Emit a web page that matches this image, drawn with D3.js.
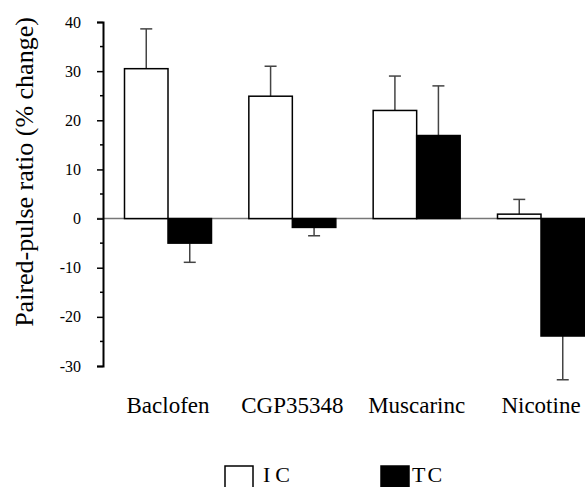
<!DOCTYPE html>
<html>
<head>
<meta charset="utf-8">
<script src="https://cdn.jsdelivr.net/npm/d3@7"></script>
<style>
  body { margin: 0; background: #fff; }
  text { font-family: "Liberation Serif", "Times New Roman", "DejaVu Serif", serif; fill: #000; }
</style>
</head>
<body>
<div id="chart"></div>
<script>
// data
const categories = ['Baclofen', 'CGP35348', 'Muscarinc', 'Nicotine'];
const groups = ['IC', 'TC'];
const icValues = [30.5, 24.9, 22.0, 0.9];
const icErrors = [8.1, 6.1, 7.0, 3.0];
const tcValues = [-5.0, -1.8, 16.9, -23.9];
const tcErrors = [3.9, 1.7, 10.1, 8.9];
const yTicks = [-30, -20, -10, 0, 10, 20, 30, 40];
const yMinorTicks = [-25, -15, -5, 5, 15, 25, 35];

const serif = '"Liberation Serif", "Times New Roman", serif';
const width = 585, height = 487;
const svg = d3.select('#chart').append('svg')
  .attr('width', width).attr('height', height);

const y = d3.scaleLinear().domain([-30, 40]).range([366, 22]);
const x = d3.scalePoint().domain(categories).range([168, 541]);
const xSub = d3.scaleBand().domain(groups).range([-43.5, 43.5]);
const color = {IC: '#fff', TC: '#000'};

const rows = [];
categories.forEach((c, i) => {
  rows.push({cat: c, grp: 'IC', v: icValues[i], e: icErrors[i]});
  rows.push({cat: c, grp: 'TC', v: tcValues[i], e: tcErrors[i]});
});

// zero line
svg.append('line')
  .attr('x1', 97).attr('x2', width)
  .attr('y1', y(0)).attr('y2', y(0))
  .attr('stroke', '#777').attr('stroke-width', 1.5);

// error bars (one-sided, in the bar's direction)
const eb = svg.append('g').attr('stroke', '#444').attr('stroke-width', 1.5);
rows.forEach(d => {
  const cx = x(d.cat) + xSub(d.grp) + xSub.bandwidth() / 2;
  const tip = d.v >= 0 ? d.v + d.e : d.v - d.e;
  eb.append('line').attr('x1', cx).attr('x2', cx).attr('y1', y(d.v)).attr('y2', y(tip));
  eb.append('line').attr('x1', cx - 6).attr('x2', cx + 6).attr('y1', y(tip)).attr('y2', y(tip));
});

// bars
svg.append('g').selectAll('rect').data(rows).join('rect')
  .attr('x', d => x(d.cat) + xSub(d.grp))
  .attr('width', xSub.bandwidth())
  .attr('y', d => y(Math.max(0, d.v)))
  .attr('height', d => Math.abs(y(d.v) - y(0)))
  .attr('fill', d => color[d.grp])
  .attr('stroke', '#000').attr('stroke-width', 1.5);

// y axis
const axis = svg.append('g').attr('transform', 'translate(103,0)')
  .call(d3.axisLeft(y).tickValues(yTicks).tickSize(6).tickPadding(16).tickFormat(d => String(d)));
axis.attr('font-family', serif).attr('font-size', 16);
axis.select('.domain').attr('stroke-width', 2);
axis.selectAll('.tick line').attr('stroke-width', 1.5);
axis.selectAll('.tick text').attr('font-family', serif).attr('font-size', 16);
axis.selectAll('.minor').data(yMinorTicks).join('line')
  .attr('class', 'minor')
  .attr('x1', -3).attr('x2', 0)
  .attr('y1', d => y(d)).attr('y2', d => y(d))
  .attr('stroke', '#000').attr('stroke-width', 1.5);

// y title
svg.append('text')
  .attr('transform', 'translate(33,172) rotate(-90)')
  .attr('text-anchor', 'middle')
  .attr('font-family', serif)
  .attr('font-size', 26)
  .text('Paired-pulse ratio (% change)');

// category labels
svg.append('g').selectAll('text').data(categories).join('text')
  .attr('x', d => x(d)).attr('y', 413)
  .attr('text-anchor', 'middle')
  .attr('font-family', serif)
  .attr('font-size', 23)
  .text(d => d);

// legend
const legendX = {IC: 225, TC: 381};
const lg = svg.append('g');
groups.forEach(g => {
  lg.append('rect')
    .attr('x', legendX[g]).attr('y', 466)
    .attr('width', 28).attr('height', 24)
    .attr('fill', color[g]).attr('stroke', '#000').attr('stroke-width', 1.5);
  lg.append('text')
    .attr('x', legendX[g] + (g === 'IC' ? 38 : 31)).attr('y', 482)
    .attr('font-family', serif)
    .attr('font-size', 22)
    .attr('letter-spacing', g === 'IC' ? 5 : 2)
    .text(g);
});
</script>
</body>
</html>
